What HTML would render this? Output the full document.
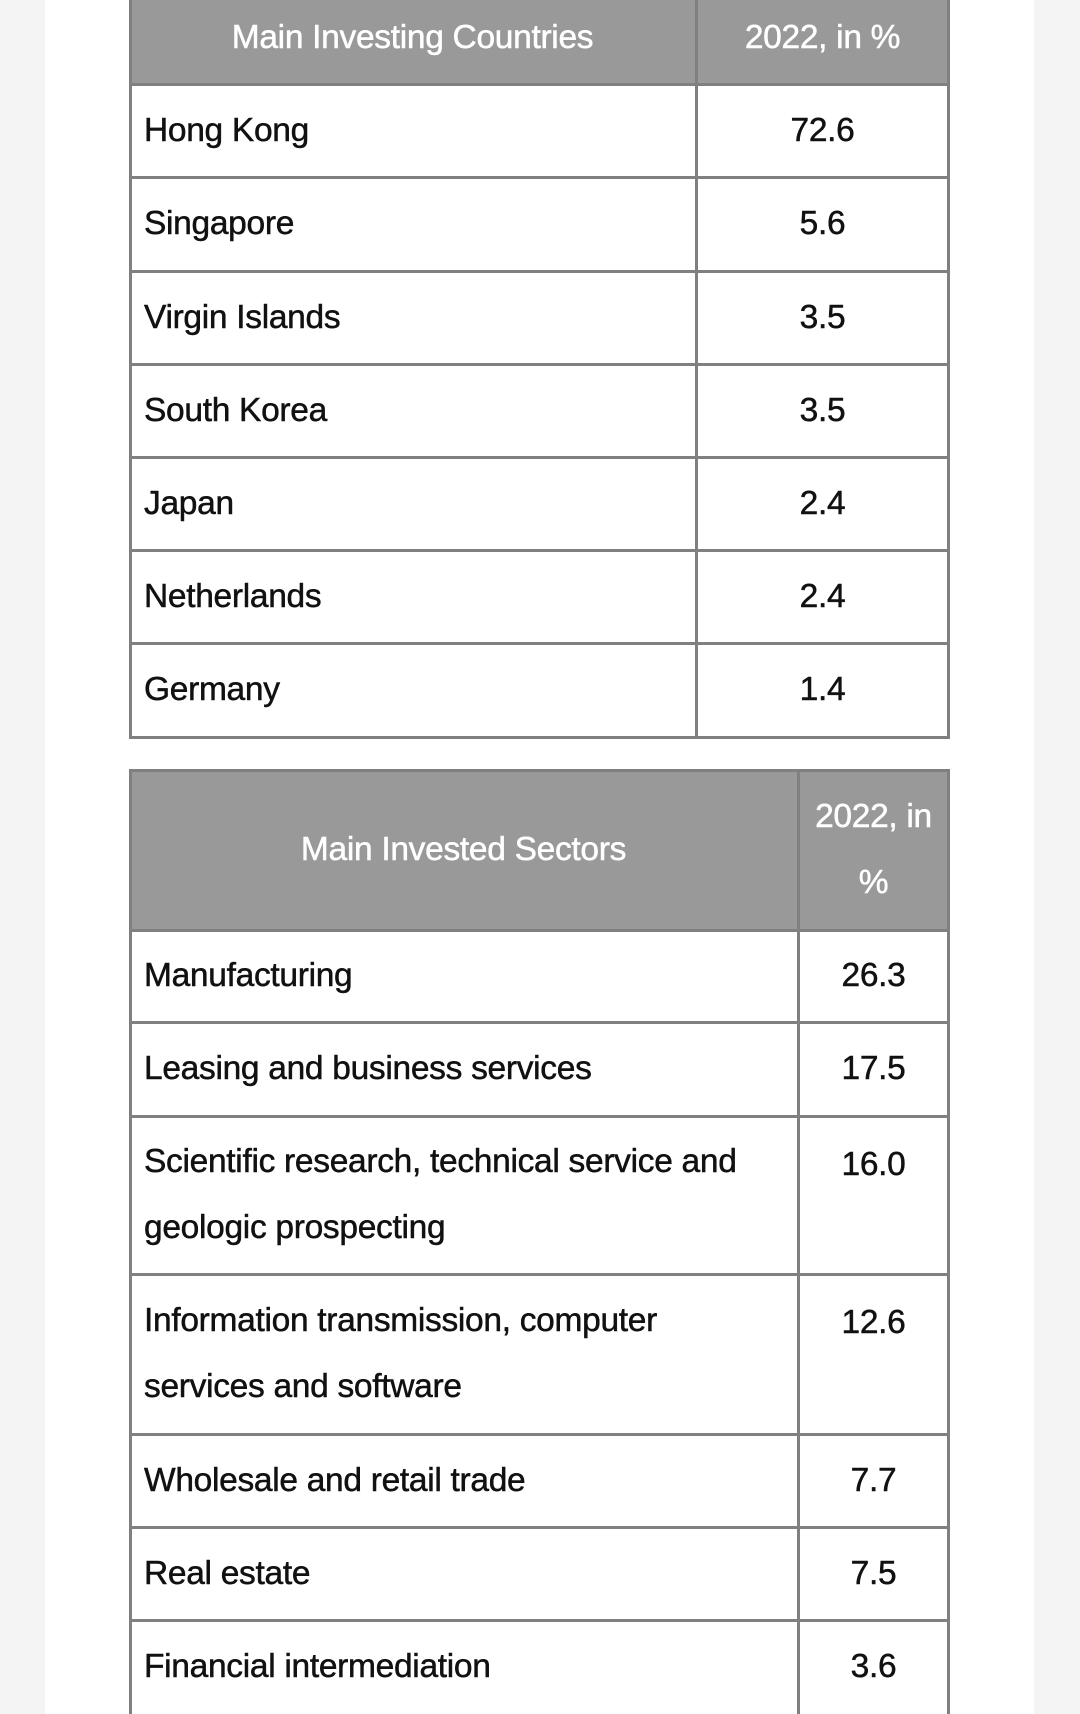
<!DOCTYPE html>
<html><head><style>
body{margin:0;width:1080px;height:1714px;background:#f4f4f4;position:relative;overflow:hidden;font-family:"Liberation Sans","DejaVu Sans",sans-serif;}
.card{position:absolute;left:45px;top:0;width:989px;height:1714px;background:#fff;}
.c{position:absolute;box-sizing:border-box;display:flex;align-items:center;font-size:33.5px;color:#111;-webkit-text-stroke:0.5px currentColor;letter-spacing:-0.3px;}
.h{background:#999;color:#fff;justify-content:center;text-align:center;}
.l{padding-left:15px;}
.r{justify-content:center;}
.hl{position:absolute;background:#808080;height:3px;}
.vl{position:absolute;background:#808080;width:3px;}
</style></head><body>
<div class="card"></div>
<!-- table 1 -->
<div class="c h" style="left:129px;top:0;width:567px;height:76px;">Main Investing Countries</div>
<div class="c h" style="left:696px;top:0;width:253px;height:76px;">2022, in %</div>
<div class="h" style="position:absolute;left:129px;top:76px;width:820px;height:8px;"></div>
<div class="c l" style="left:129px;top:84px;width:567px;height:93px;">Hong Kong</div>
<div class="c r" style="left:696px;top:84px;width:253px;height:93px;">72.6</div>
<div class="c l" style="left:129px;top:177px;width:567px;height:94px;">Singapore</div>
<div class="c r" style="left:696px;top:177px;width:253px;height:94px;">5.6</div>
<div class="c l" style="left:129px;top:271px;width:567px;height:93px;">Virgin Islands</div>
<div class="c r" style="left:696px;top:271px;width:253px;height:93px;">3.5</div>
<div class="c l" style="left:129px;top:364px;width:567px;height:93px;">South Korea</div>
<div class="c r" style="left:696px;top:364px;width:253px;height:93px;">3.5</div>
<div class="c l" style="left:129px;top:457px;width:567px;height:93px;">Japan</div>
<div class="c r" style="left:696px;top:457px;width:253px;height:93px;">2.4</div>
<div class="c l" style="left:129px;top:550px;width:567px;height:93px;">Netherlands</div>
<div class="c r" style="left:696px;top:550px;width:253px;height:93px;">2.4</div>
<div class="c l" style="left:129px;top:643px;width:567px;height:94px;">Germany</div>
<div class="c r" style="left:696px;top:643px;width:253px;height:94px;">1.4</div>
<div class="hl" style="left:129px;width:821px;top:83px"></div>
<div class="hl" style="left:129px;width:821px;top:176px"></div>
<div class="hl" style="left:129px;width:821px;top:270px"></div>
<div class="hl" style="left:129px;width:821px;top:363px"></div>
<div class="hl" style="left:129px;width:821px;top:456px"></div>
<div class="hl" style="left:129px;width:821px;top:549px"></div>
<div class="hl" style="left:129px;width:821px;top:642px"></div>
<div class="hl" style="left:129px;width:821px;top:736px"></div>
<div class="vl" style="left:129px;top:0;height:739px"></div>
<div class="vl" style="left:695px;top:0;height:739px"></div>
<div class="vl" style="left:947px;top:0;height:739px"></div>
<!-- table 2 -->
<div class="c h" style="left:129px;top:770px;width:669px;height:160px;">Main Invested Sectors</div>
<div class="c h" style="left:798px;top:770px;width:151px;height:160px;line-height:66px;">2022, in<br>%</div>
<div class="c l" style="left:129px;top:930px;width:669px;height:92px;">Manufacturing</div>
<div class="c r" style="left:798px;top:930px;width:151px;height:92px;">26.3</div>
<div class="c l" style="left:129px;top:1022px;width:669px;height:94px;">Leasing and business services</div>
<div class="c r" style="left:798px;top:1022px;width:151px;height:94px;">17.5</div>
<div class="c l" style="left:129px;top:1116px;width:669px;height:158px;line-height:66px;">Scientific research, technical service and<br>geologic prospecting</div>
<div class="c r" style="left:798px;top:1116px;width:151px;height:158px;align-items:flex-start;padding-top:30px;">16.0</div>
<div class="c l" style="left:129px;top:1274px;width:669px;height:160px;line-height:66px;">Information transmission, computer<br>services and software</div>
<div class="c r" style="left:798px;top:1274px;width:151px;height:160px;align-items:flex-start;padding-top:30px;">12.6</div>
<div class="c l" style="left:129px;top:1434px;width:669px;height:93px;">Wholesale and retail trade</div>
<div class="c r" style="left:798px;top:1434px;width:151px;height:93px;">7.7</div>
<div class="c l" style="left:129px;top:1527px;width:669px;height:93px;">Real estate</div>
<div class="c r" style="left:798px;top:1527px;width:151px;height:93px;">7.5</div>
<div class="c l" style="left:129px;top:1620px;width:669px;height:94px;">Financial intermediation</div>
<div class="c r" style="left:798px;top:1620px;width:151px;height:94px;">3.6</div>
<div class="hl" style="left:129px;width:821px;top:769px"></div>
<div class="hl" style="left:129px;width:821px;top:929px"></div>
<div class="hl" style="left:129px;width:821px;top:1021px"></div>
<div class="hl" style="left:129px;width:821px;top:1115px"></div>
<div class="hl" style="left:129px;width:821px;top:1273px"></div>
<div class="hl" style="left:129px;width:821px;top:1433px"></div>
<div class="hl" style="left:129px;width:821px;top:1526px"></div>
<div class="hl" style="left:129px;width:821px;top:1619px"></div>
<div class="vl" style="left:129px;top:769px;height:945px"></div>
<div class="vl" style="left:797px;top:769px;height:945px"></div>
<div class="vl" style="left:947px;top:769px;height:945px"></div>
</body></html>
